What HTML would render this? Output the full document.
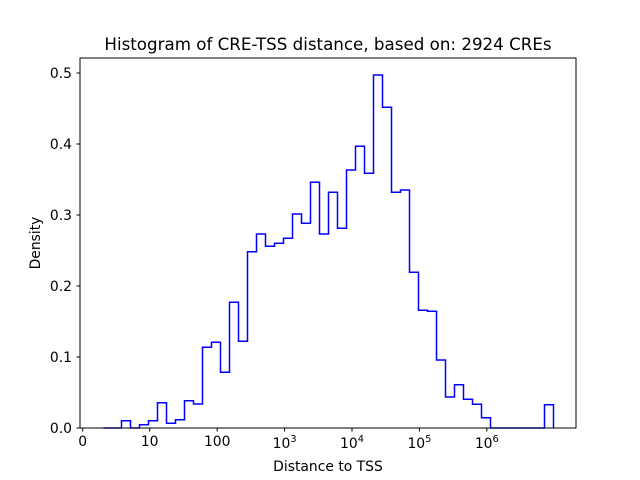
<!DOCTYPE html>
<html><head><meta charset="utf-8"><style>
html,body{margin:0;padding:0;background:#fff;}
svg{display:block;font-family:"DejaVu Sans","Liberation Sans",sans-serif;}
</style></head><body>
<svg id="s" width="640" height="480" viewBox="0 0 640 480" xmlns="http://www.w3.org/2000/svg">
<rect width="640" height="480" fill="#fff"/>
<path id="h" fill="none" stroke="#0000ff" stroke-width="1.5" stroke-linejoin="miter"/>
<rect x="80" y="58" width="496" height="370" fill="none" stroke="#000" stroke-width="1"/>
<g stroke="#000" stroke-width="1">
<line x1="82.7" y1="428" x2="82.7" y2="431.5"/>
<line x1="149.7" y1="428" x2="149.7" y2="431.5"/>
<line x1="217.2" y1="428" x2="217.2" y2="431.5"/>
<line x1="284.6" y1="428" x2="284.6" y2="431.5"/>
<line x1="352" y1="428" x2="352" y2="431.5"/>
<line x1="419.4" y1="428" x2="419.4" y2="431.5"/>
<line x1="486.8" y1="428" x2="486.8" y2="431.5"/>
<line x1="76.5" y1="428" x2="80" y2="428"/>
<line x1="76.5" y1="357" x2="80" y2="357"/>
<line x1="76.5" y1="286" x2="80" y2="286"/>
<line x1="76.5" y1="215" x2="80" y2="215"/>
<line x1="76.5" y1="144" x2="80" y2="144"/>
<line x1="76.5" y1="73" x2="80" y2="73"/>
</g>
<g font-size="13.9" fill="#000" text-anchor="end">
<text x="72" y="433">0.0</text>
<text x="72" y="362">0.1</text>
<text x="72" y="291">0.2</text>
<text x="72" y="220">0.3</text>
<text x="72" y="149">0.4</text>
<text x="72" y="78">0.5</text>
</g>
<g font-size="13.9" fill="#000" text-anchor="middle">
<text x="82.7" y="446">0</text>
<text x="149.7" y="446">10</text>
<text x="217.2" y="446">100</text>
<text x="284.6" y="448">10<tspan font-size="9.8" dy="-6">3</tspan></text>
<text x="352" y="448">10<tspan font-size="9.8" dy="-6">4</tspan></text>
<text x="419.4" y="448">10<tspan font-size="9.8" dy="-6">5</tspan></text>
<text x="486.8" y="448">10<tspan font-size="9.8" dy="-6">6</tspan></text>
<text x="328" y="471">Distance to TSS</text>
<text x="328" y="50" font-size="16.7">Histogram of CRE-TSS distance, based on: 2924 CREs</text>
</g>
<text x="40" y="243" font-size="13.9" text-anchor="middle" transform="rotate(-90 40 243)">Density</text>
</svg>
<script>
var ys=[428,428,420.7,428,424.7,420.7,402.7,423.3,419.7,400.7,404,347.3,342.3,372.3,302.3,341.3,251.7,234,246.3,243.3,238.3,214,223.3,182.3,234,192.3,228.3,170,146.3,173.3,75,107.3,192.3,190,272.3,310.3,311.3,360,397,384.7,399.3,404.3,417.7,428,428,428,428,428,428,404.7];
var d="M103.5 428";
for(var k=0;k<ys.length;k++){var x0=103.5+9*k,x1=x0+9;d+=" L"+x0+" "+ys[k]+" L"+x1+" "+ys[k];}
d+=" L"+(103.5+9*ys.length)+" 428";
document.getElementById("h").setAttribute("d",d);
</script>
</body></html>
